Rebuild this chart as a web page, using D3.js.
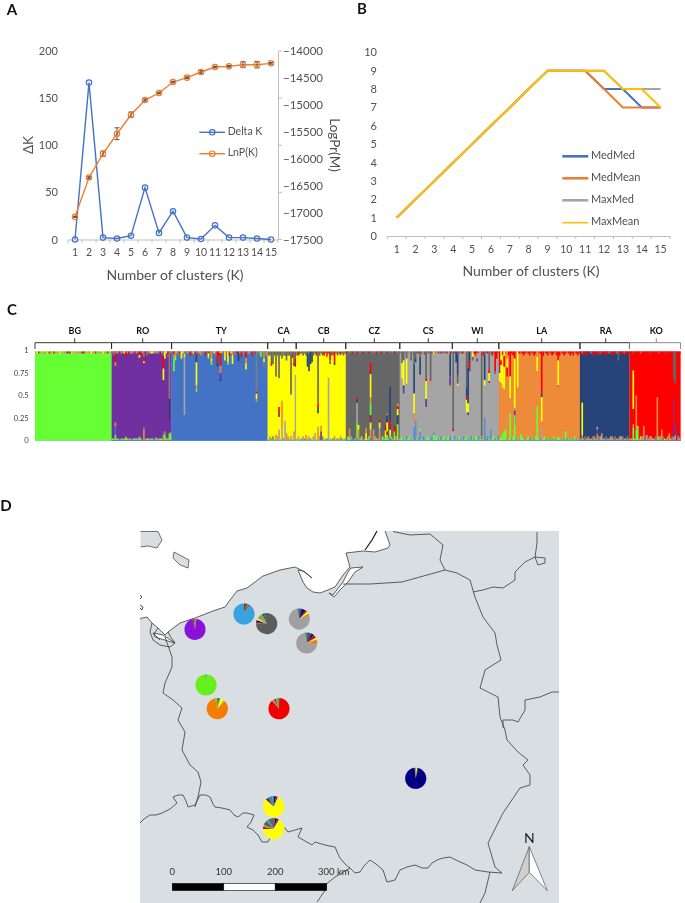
<!DOCTYPE html>
<html><head><meta charset="utf-8">
<style>html,body{margin:0;padding:0;background:#fff}svg{display:block;filter:blur(0.35px)}text{font-family:Lato,"Open Sans",sans-serif}</style>
<script src="https://cdn.jsdelivr.net/npm/d3@7/dist/d3.min.js"></script>
</head><body><svg id="c" width="685" height="903"></svg>
<script>
// ---------- Panel A ----------
const clusters=[1,2,3,4,5,6,7,8,9,10,11,12,13,14,15];
const deltaK=[0,166.5,2,1,4,55,7,30,2,0.5,15,2,2,1,0];
const lnPK=[-17080,-16350,-15908,-15536,-15183,-14910,-14780,-14576,-14495,-14390,-14297,-14285,-14254,-14254,-14229];
const lnPErr=[10,15,50,110,50,20,15,15,15,25,15,15,55,60,15];
const deltaTicks=[0,50,100,150,200];
const lnPTicks=[-14000,-14500,-15000,-15500,-16000,-16500,-17000,-17500];
const lnPMarks=[-14000,-14875,-15750,-16625,-17500];
// ---------- Panel B ----------
const medMed=[1,2,3,4,5,6,7,8,9,9,9,8,8,7,7];
const medMean=[1,2,3,4,5,6,7,8,9,9,9,8,7,7,7];
const maxMed=[1,2,3,4,5,6,7,8,9,9,9,9,8,8,8];
const maxMean=[1,2,3,4,5,6,7,8,9,9,9,9,8,8,7];
const bTicks=[0,1,2,3,4,5,6,7,8,9,10];
// ---------- Panel C ----------
const popNames=["BG","RO","TY","CA","CB","CZ","CS","WI","LA","RA","KO"];
const popSizes=[51,40,64,19,33,36,35,31,54,33,34];
const popBases=["g","p","b","y","y","d","a","a","o","n","r"];
const popTop=[
"oypogoaoyrogpoaoyogoopbryogooaorpogooyoopgooayoopgo",
"tTrotrotytoroatrotyrotrTtoyrotatroTtyrto",
"tRtoTrtyRtotRtyrTtorTtRtoTrtyTrRtotrTtRyotTrtorTtrtoTRtrotTrtoTr",
"DDDRDDDDDDTDDDDRDDD",
"DRDdDdDRdDdDdRDDdDRdDRdDDRdDdRdDd",
"rdtdrdtrdtdrdtdrdtdtrdtrdtdrdtdtrdtd",
"tdrtdtortdtdrtdotrtdtrdtodtrtdtrot",
"rdtRdtrdotRdtdrRdtodRtdrdtRdotd",
"rRrRtrRtrRrtRrtrRrtrRtrRrRtrRrtrRtrRrtRrRtrRrtrRrRtrRr",
"rtRrRnrtRrrRrtRrrRrtrRrrtRrRrtRrr",
"rrdrrrrtrrrrrdrrrrrtrrrrdrrrrrtrrr"];
const popBottom=[
"",
"gcogcbcogcgocbgcgogcbgogcocgbcogcgcogcgb",
"",
"gOsTgoAsgOtgsOaTgos",
"oAgsOtgoAsgOtgsOaTgosOagtOgsaOtgo",
"sGoAstgOsaGtoSaGotsAgoStGaoSgtAoGsta",
"gGsgSgGsgGSgsGgSsgGgsSggGsgSgGsgGS",
"gSgsGsgSgGsgSgsGgSgsgGsSgsgGsgS",
"gGsgGlgGsGgsglGsgsgGlsgsGsgslgGsglgsGsgsglgsGsglgsGsgl",
"oAoTaOoaTOaoTAOaoToaAOoTaoOATaoTo",
"oaOgTaoGOaTgoAOgaToGOaTgoOAgTaoGOa"];
const spikesBG=[];
const spikesRO=[[2,"t2 r10 o4","g6 b10 o4"],[9,"r6","g4"],[18,"r4 y3","g4"],[21,"t6 r5 y2","o13 b2"],[27,"y2",""],
 [29,"","g3"],[34,"t5 r14 y13","o6 b3"],[35,"y8","g6 l4"],[37,"r4 t2","o3"],[38,"t53 n23","g8"],[39,"t2","g7 o2"]];
const spikesTY=[[1,"r3 o5 g14",""],[2,"o5 g5",""],[6,"y8",""],[8,"t3 y3 a65",""],[16,"t2 r3 n7 y26 o4 g3",""],[19,"o4",""],[24,"r2 y4 g2",""],
 [26,"o8 y3 g4",""],[30,"r13 n4",""],[32,"y2 r14 o8 p6 n3",""],[35,"y10",""],[37,"y12 g3",""],[40,"o4 y10",""],[44,"n11",""],[46,"r6",""],
 [49,"r7 o6 y7",""],[56,"t45 r2 y6 o2 g1",""],[59,"g6",""],[61,"o8 y4 t5",""],[63,"o5",""]];
const spikesCA=[[2,"d12 r4",""],[3,"d14",""],[5,"d28","o6"],[7,"d30 y32 r8 n3","o8 a4"],[9,"d8 y47 o30","a15"],[11,"d5","a22"],[12,"d10","o8"],
 [15,"d48","o5"],[16,"d3 r4",""],[17,"d12 r4","o10"],[18,"d8 r6 n3","a73"]];
const spikesCB=[[2,"d3",""],[6,"","o6"],[7,"d2 n15",""],[8,"d2 n20",""],[9,"n14",""],[10,"n12",""],[12,"","a8"],[14,"d58 r4 n7","o10 a5"],[16,"","p10 o6"],[20,"r6",""],[21,"d3 y27","a70"],
 [22,"r10 d4",""],[25,"r12 n3",""],[29,"r4",""]];
const spikesCZ=[[2,"","g3 o10"],[7,"","b2 g18 a22 n3 r3"],[8,"","o12 y5"],[13,"","y8 o6"],[16,"","b2 o10 y8 p3 r3 n2 g14 o6 y26 r13"],[18,"","o6 a6"],
 [22,"","o8 a6 y6 r3"],[26,"","g3 y8 n2 r4"],[27,"","g6 r4 y10 n8 o2"],[29,"","b2 g4 y6 r10 n38"],[32,"","g10 r6"],[33,"","o5 r8"],[34,"","g18 n10 y7 r3 o3"]];
const spikesCS=[[1,"d13 y17","g4"],[2,"d10 y28 n3 p6",""],[4,"d8 y28",""],[7,"d10",""],[9,"d14 n33 y22 o10","s15"],[10,"d8 n4","s22"],[13,"d6 n20","s10 g3"],
 [16,"d4",""],[17,"d30 r3 y20 p9",""],[20,"d33 o4",""],[22,"y3","g6 s3"],[33,"d3 n25 p10 o2",""]];
const spikesWI=[[0,"d86 r3",""],[2,"n12",""],[3,"d3 n24 d9 y2",""],[9,"d40 n10 r4 y14",""],[10,"d18 n40 y10 p3",""],[11,"n10 r8 p4",""],[13,"y6 d4",""],[16,"r2 o6 p3",""],
 [19,"d95 y1 r1",""],[21,"d4 n28 y6","s25"],[24,"d20 r4 y9 p2",""],[25,"","s12"],[28,"r22 d3",""],[29,"r8",""]];
const spikesLA=[[0,"r16 p8 y9",""],[1,"y10 r5 y20","g4"],[2,"r4 y36","g8"],[3,"y5 r12 y25","g10"],[4,"","g12"],[5,"o8 y10 r10",""],[7,"r28 y24","g30"],[10,"r8 y55 o3 p17","g28"],
 [12,"y40",""],[14,"","g7"],[15,"","g3"],[25,"o6 y16","g38"],[28,"r46 n5 y27","a12"],[29,"r5",""],[39,"r10 y28 p1","g4"],[44,"","g10"]];
const spikesRA=[[1,"","a3 o3 y36"],[11,"","o7 p5 a3"],[14,"","a6 o2"],[25,"d10",""]];
const spikesKO=[[2,"","g14 o4 r17 y43"],[4,"","g12 o38"],[5,"","g16"],[9,"","o16"],[11,"","a6"],[18,"","a4 o44"],[21,"","o12"],[26,"","o8"],[29,"d32 r8","a4 n2 m42"],[30,"d36","o6 p10"],[31,"","p8"]];
const popSpikes=[spikesBG,spikesRO,spikesTY,spikesCA,spikesCB,spikesCZ,spikesCS,spikesWI,spikesLA,spikesRA,spikesKO];
const clusterColors={g:"#66ff33",p:"#7030a0",b:"#4472c4",y:"#ffff00",d:"#666666",a:"#a5a5a5",o:"#ed8b3b",n:"#264478",r:"#ff0000",t:"#7f7f7f",l:"#70ad47",m:"#a8205f",c:"#85d8b0",s:"#5b8fd0"};
const structTicks=[0,0.25,0.5,0.75,1];
// ---------- Panel D ----------
const pieSites=["purple","blue","dark","gray1","gray2","green","orange","red","yellow1","yellow2","navy"];
const pieLon=[195,244,266.7,299.3,306.7,206,217.3,279,273.7,273.7,415.7];
const pieLat=[629.3,614,623.7,619,643,685,708.7,708.7,806.7,828.7,778.3];
const pieRotate=[-14,0,-88,-15,-12,-3,-12,-42,-48,-92,-6];
const pieShares=[
 [["#555",2],["#b02020",1.5],["#c87020",1],["#50a040",1.5],["#8a12d8",94]],
 [["#7a3a20",3],["#444",2.5],["#b08030",2],["#602020",1.5],["#38a3e0",91]],
 [["#c00020",2],["#000060",3],["#ffff00",3],["#e08020",2],["#909090",4],["#50c030",4],["#333",2],["#5c5c5c",80]],
 [["#20a0a0",3],["#555",5],["#000080",6],["#c01020",3],["#ffff00",4],["#e08030",4],["#a0a0a0",75]],
 [["#20a0a0",3],["#555",8],["#000080",4],["#c01020",5],["#ffff00",3],["#e08030",8],["#a0a0a0",69]],
 [["#222",1.5],["#66f01a",98.5]],
 [["#60d030",4],["#333",2],["#50a040",2],["#ffff00",6],["#c0a000",2],["#f57c00",84]],
 [["#909090",2],["#e08030",2],["#800020",2],["#909090",2],["#40b040",4],["#f00000",88]],
 [["#800020",3],["#555",3],["#2090c0",5],["#309090",3],["#000080",3],["#c01020",3],["#ffff00",80]],
 [["#800020",3],["#e08030",4],["#555",6],["#30a0b0",4],["#666",11],["#000080",3],["#c01020",3],["#ffff00",66]],
 [["#a08040",2],["#ffff00",2],["#404040",2],["#000080",94]]];
const seaOutline=[[140,618.5],[147,617],[152,623],[158,628],[165,635],[168,632],[180,623],[195,618],[213,611],[225,607],[230,600],[237,591],[247,588],[255,582],[263,576],[280,570],[295,567],[305,572],[312,578],[303,571],[298,570],[303,582],[307,588],[313,592],[320,593],[328,590],[335,587],[343,575],[350,567],[346,553],[363,551],[375,552],[388,548],[390,545],[385,531],[140,531]];
const landNW=[[140,531.5],[158,531.5],[162,540],[157,548],[148,546],[140,547]];
const bornholm=[[174,552],[189,560],[188,568],[180,565],[173,558],[174,552]];
const lagoonVistula=[[329,593],[333,595],[343,582],[348,572],[351,568],[363,567],[355,572],[348,582],[340,590],[334,597],[329,593]];
const lagoonSzczecin=[[153,633],[163,635],[175,643],[168,641],[155,637],[153,633]];
const borderLines=[
 [[165,637],[172,657],[172,667],[165,683],[163,693],[173,700],[182,708],[178,720],[185,732],[182,750],[190,765],[198,772],[201,782],[198,797],[195,807]],
 [[140,823],[144,819],[150,815],[156,815],[162,813],[170,809],[177,803],[173,797],[178,795],[183,795],[186,801],[188,807],[195,805],[200,795],[206,795],[210,797],[213,804],[215,807],[222,808],[230,810],[234,815],[238,817],[243,813],[247,813],[254,815],[251,822],[247,827],[253,830],[258,835],[262,842],[268,842],[271,836],[274,832],[280,829],[285,828],[288,832],[295,830],[302,828],[298,837],[305,841],[312,845],[315,842],[325,845],[335,847],[338,854],[340,858],[345,864],[350,868],[355,873],[360,872],[364,866],[370,860],[376,864],[383,870],[387,882],[395,880],[400,870],[407,867],[415,865],[422,868],[428,868],[432,863],[437,860],[443,858],[450,857],[458,861],[467,865],[475,870],[488,872],[502,873]],
 [[350,868],[335,877],[325,885],[324,892],[317,902]],
 [[490,872],[485,893],[480,903]],
 [[393,531.5],[410,535],[430,534],[443,545],[440,560],[445,570],[457,573],[470,580],[475,597],[483,617],[495,633],[497,645],[501,660],[485,670],[480,688],[490,693],[498,697],[500,717],[505,730],[507,740],[518,752],[528,760],[523,765],[530,775],[530,785],[520,788],[503,813],[488,843],[495,867],[502,873]],
 [[343,584],[370,584],[402,582],[445,570]],
 [[473,592],[483,590],[493,587],[503,588],[515,580],[515,572],[525,562],[535,557],[537,543],[537,532]],
 [[535,557],[545,558],[545,563],[538,565],[535,557]],
 [[503,728],[503,720],[513,720],[518,722],[525,710],[525,700],[540,697],[552,692],[559,692]],
 [[152,623],[150,632],[153,640],[160,645],[170,647],[175,643],[170,636],[168,632]],
 [[158,628],[154,634],[160,640]]];
const curonianSpit=[[377,531],[372,540],[365,550]];
const islets=[[[140,595],[142,597],[140,599]],[[140,605],[143,607],[142,610],[140,608]]];
const scaleKm=[0,100,200,300];

// ---------- drawing ----------
const svg=d3.select("#c");
const gray="#505050", axisGray="#bfbfbf";
function label(t,x,y,opt={}){return svg.append("text").attr("x",x).attr("y",y).attr("text-anchor",opt.anchor||"middle").attr("dominant-baseline","middle")
 .attr("font-size",opt.size||11).attr("fill",opt.fill||gray).attr("font-weight",opt.weight||400).attr("transform",opt.rot?`rotate(${opt.rot} ${x} ${y})`:null).text(t);}
[["A",12,11],["B",362,10.5],["C",12,311],["D",6,507]].forEach(d=>label(d[0],d[1],d[2],{size:15,fill:"#111",weight:700}));

// Panel A
const xA=d3.scaleBand().domain(clusters).range([68,278]);
const yL=d3.scaleLinear().domain([0,200]).range([239.5,51]);
const yR=d3.scaleLinear().domain([-17500,-14000]).range([239.5,51]);
const axA=svg.append("g").attr("transform","translate(0,239.5)").call(d3.axisBottom(xA).tickSize(0).tickPadding(9));
axA.select(".domain").attr("stroke",axisGray);axA.selectAll("text").attr("font-size",10.5).attr("fill",gray);
svg.append("g").selectAll("line").data(clusters.concat([16])).join("line").attr("x1",d=>d<16?xA(d):xA.range()[1]).attr("x2",d=>d<16?xA(d):xA.range()[1]).attr("y1",239.5).attr("y2",243).attr("stroke",axisGray);
const axL=svg.append("g").attr("transform","translate(62,0)").call(d3.axisLeft(yL).tickValues(deltaTicks).tickSize(0).tickPadding(4));
axL.select(".domain").remove();axL.selectAll("text").attr("font-size",11).attr("fill",gray);
const axR=svg.append("g").attr("transform","translate(278,0)").call(d3.axisRight(yR).tickValues(lnPTicks).tickSize(0).tickPadding(5).tickFormat(d3.format("d")));
axR.select(".domain").attr("stroke",axisGray);axR.selectAll("text").attr("font-size",11.5).attr("fill",gray);
svg.append("g").selectAll("line").data(lnPMarks).join("line").attr("x1",278).attr("x2",282).attr("y1",d=>yR(d)).attr("y2",d=>yR(d)).attr("stroke",axisGray);
const cx=k=>xA(k)+xA.bandwidth()/2;
const pLineA=(vals,y)=>d3.line().x((v,i)=>cx(clusters[i])).y(v=>y(v))(vals);
svg.append("path").attr("d",pLineA(deltaK,yL)).attr("fill","none").attr("stroke","#4472c4").attr("stroke-width",1.4);
svg.append("path").attr("d",pLineA(lnPK,yR)).attr("fill","none").attr("stroke","#ed7d31").attr("stroke-width",1.4);
lnPK.forEach((v,i)=>{const g=svg.append("g").attr("stroke","#404040").attr("stroke-width",.9),e=lnPErr[i],X=cx(clusters[i]);
 g.append("line").attr("x1",X).attr("x2",X).attr("y1",yR(v-e)).attr("y2",yR(v+e));
 [v-e,v+e].forEach(w=>g.append("line").attr("x1",X-2.5).attr("x2",X+2.5).attr("y1",yR(w)).attr("y2",yR(w)));});
svg.append("g").selectAll("circle").data(deltaK).join("circle").attr("cx",(v,i)=>cx(clusters[i])).attr("cy",v=>yL(v)).attr("r",2.7).attr("fill","none").attr("stroke","#4472c4").attr("stroke-width",1.2);
svg.append("g").selectAll("circle").data(lnPK).join("circle").attr("cx",(v,i)=>cx(clusters[i])).attr("cy",v=>yR(v)).attr("r",2.7).attr("fill","none").attr("stroke","#ed7d31").attr("stroke-width",1.2);
label("Number of clusters (K)",175,276,{size:14});
label("ΔK",30,145,{size:13.5,rot:-90});
label("LogPr(M)",333,145,{size:13.5,rot:90});
[["Delta K","#4472c4",132.3],["LnP(K)","#ed7d31",153.7]].forEach(d=>{
 svg.append("line").attr("x1",199.3).attr("x2",225).attr("y1",d[2]).attr("y2",d[2]).attr("stroke",d[1]).attr("stroke-width",1.4);
 svg.append("circle").attr("cx",212.3).attr("cy",d[2]).attr("r",2.7).attr("fill","none").attr("stroke",d[1]).attr("stroke-width",1.2);
 label(d[0],227.7,d[2],{anchor:"start",size:10.5});});

// Panel B
const xB=d3.scaleBand().domain(clusters).range([387.3,670]);
const yB=d3.scaleLinear().domain([0,10]).range([236,52.3]);
const axB=svg.append("g").attr("transform","translate(0,236)").call(d3.axisBottom(xB).tickSize(0).tickPadding(10));
axB.select(".domain").attr("stroke",axisGray);axB.selectAll("text").attr("font-size",10.5).attr("fill",gray);
svg.append("g").selectAll("line").data(clusters.concat([16])).join("line").attr("x1",d=>d<16?xB(d):670).attr("x2",d=>d<16?xB(d):670).attr("y1",236).attr("y2",239).attr("stroke",axisGray);
const axBL=svg.append("g").attr("transform","translate(377,0)").call(d3.axisLeft(yB).tickValues(bTicks).tickSize(0).tickPadding(0));
axBL.select(".domain").remove();axBL.selectAll("text").attr("font-size",11).attr("fill",gray);
const bSeries=[["MedMed",medMed,"#4472c4",156.3,2.6],["MedMean",medMean,"#ed7d31",178.3,2.6],["MaxMed",maxMed,"#a5a5a5",200.3,2.6],["MaxMean",maxMean,"#ffc000",222.7,1.6]];
bSeries.forEach(s=>{
 svg.append("path").attr("d",d3.line().x((v,i)=>xB(clusters[i])+xB.bandwidth()/2).y(v=>yB(v))(s[1])).attr("fill","none").attr("stroke",s[2]).attr("stroke-width",2);
 svg.append("line").attr("x1",562.3).attr("x2",588.3).attr("y1",s[3]).attr("y2",s[3]).attr("stroke",s[2]).attr("stroke-width",s[4]);
 label(s[0],591,s[3],{anchor:"start",size:11});});
label("Number of clusters (K)",531,272,{size:14});

// Panel C
const total=d3.sum(popSizes);
const xS=d3.scaleLinear().domain([0,total]).range([35,680.5]);
const yS=d3.scaleLinear().domain([0,1]).range([441,351.5]);
const parseSegs=s=>(s||"").trim().split(/\s+/).filter(Boolean).map(t=>[t[0],+t.slice(1)/100]);
const gS=svg.append("g");
function seg(i,w,from,to,key){gS.append("rect").attr("x",xS(i)).attr("width",xS(i+w)-xS(i)+.15).attr("y",yS(to)).attr("height",Math.max(0,yS(from)-yS(to))).attr("fill",clusterColors[key]);}
let offset=0;
const lblX=[74.7,142.7,221.3,283.7,323.7,374.3,428.3,477.3,541.7,605.7,656.3];
popNames.forEach((name,pi)=>{
 const n=popSizes[pi],base=popBases[pi];
 seg(offset,n,0,1,base);
 const spikes=popSpikes[pi];
 for(let j=0;j<n;j++){
  const sp=spikes.filter(d=>d[0]===j);
  const topStr=sp.map(d=>d[1]).filter(Boolean)[0], botStr=sp.map(d=>d[2]).filter(Boolean)[0];
  let tops, bots;
  if(topStr) tops=parseSegs(topStr);
  else{const c=(popTop[pi][j]||"r");const up=c!==c.toLowerCase();tops=[[c.toLowerCase(),up?.045:.022]];}
  if(botStr) bots=parseSegs(botStr);
  else{const c=(popBottom[pi][j]||"");bots=c?[[c.toLowerCase(),c!==c.toLowerCase()?.045:.02]]:[];}
  let t=1;tops.forEach(d=>{seg(offset+j,1,t-d[1],t,d[0]);t-=d[1];});
  let b=0.008;bots.forEach(d=>{seg(offset+j,1,b,b+d[1],d[0]);b+=d[1];});
  seg(offset+j,1,0,.008,pi===0?"c":"s");
 }
 const x0=xS(offset),x1=xS(offset+n),col=pi===10?"#808080":"#222";
 svg.append("path").attr("d",`M${x0},349V342.7H${x1}V349M${lblX[pi]},342.7V338.3`).attr("fill","none").attr("stroke",col).attr("stroke-width",.9);
 label(name,lblX[pi],331.3,{size:9,fill:"#111",weight:700});
 offset+=n;
});
structTicks.forEach(t=>label(t,28.7,yS(t),{anchor:"end",size:7.5,fill:"#444"}));

// Panel D
const mx=d3.scaleLinear().domain([140,559]).range([140,559]);
const my=d3.scaleLinear().domain([531,903]).range([531,903]);
const mapPath=d3.line().x(d=>mx(d[0])).y(d=>my(d[1]));
const coast="#3a3a3a";
svg.append("rect").attr("x",mx(140)).attr("y",my(531)).attr("width",mx(559)-mx(140)).attr("height",my(903)-my(531)).attr("fill","#d8dee2");
svg.append("path").attr("d",mapPath(seaOutline)).attr("fill","#fff");
svg.append("path").attr("d",mapPath(seaOutline.slice(0,-1))).attr("fill","none").attr("stroke",coast).attr("stroke-width",.8);
[landNW,bornholm].forEach(p=>svg.append("path").attr("d",mapPath(p)).attr("fill","#d8dee2").attr("stroke",coast).attr("stroke-width",.7));
svg.append("rect").attr("x",139).attr("y",530).attr("width",1.5).attr("height",20).attr("fill","#fff");
svg.append("rect").attr("x",139).attr("y",529).attr("width",25).attr("height",2).attr("fill","#fff");
[lagoonVistula,lagoonSzczecin].forEach(p=>svg.append("path").attr("d",mapPath(p)).attr("fill","#fff").attr("stroke",coast).attr("stroke-width",.8));
borderLines.forEach(p=>svg.append("path").attr("d",mapPath(p)).attr("fill","none").attr("stroke",coast).attr("stroke-width",.8));
svg.append("path").attr("d",mapPath(curonianSpit)).attr("fill","none").attr("stroke","#222").attr("stroke-width",1.3);
islets.forEach(p=>svg.append("path").attr("d",mapPath(p)).attr("fill","none").attr("stroke","#222").attr("stroke-width",.8));
const rad=10.6;
pieSites.forEach((s,i)=>{
 const rot=pieRotate[i]*Math.PI/180;
 const arcs=d3.pie().sort(null).value(d=>d[1]).startAngle(rot).endAngle(rot+2*Math.PI)(pieShares[i]);
 const g=svg.append("g").attr("transform",`translate(${mx(pieLon[i])},${my(pieLat[i])})`);
 g.selectAll("path").data(arcs).join("path").attr("d",d3.arc().innerRadius(0).outerRadius(rad)).attr("fill",d=>d.data[0]);
});
const km=d3.scaleLinear().domain([0,300]).range([172.3,326.7]);
[[0,100,"#000"],[100,200,"#fff"],[200,300,"#000"]].forEach(d=>svg.append("rect").attr("x",km(d[0])).attr("y",883.5).attr("width",km(d[1])-km(d[0])).attr("height",7).attr("fill",d[2]).attr("stroke","#000").attr("stroke-width",.6));
scaleKm.forEach(k=>{const t=k===300?"300 km":k; const x=k===300?318:km(k); label(t,x,872.7,{size:9.5,fill:"#333",anchor:k===300?"start":"middle"});});
svg.append("path").attr("d",mapPath([[529.3,846.7],[512.3,890.7],[529.3,872.3]])+"Z").attr("fill","#cfcfcf").attr("stroke","#555").attr("stroke-width",.7);
svg.append("path").attr("d",mapPath([[529.3,846.7],[547.3,890.7],[529.3,872.3]])+"Z").attr("fill","#fff").attr("stroke","#555").attr("stroke-width",.7);
label("N",529.3,839.5,{size:14,fill:"#222"});
</script></body></html>
